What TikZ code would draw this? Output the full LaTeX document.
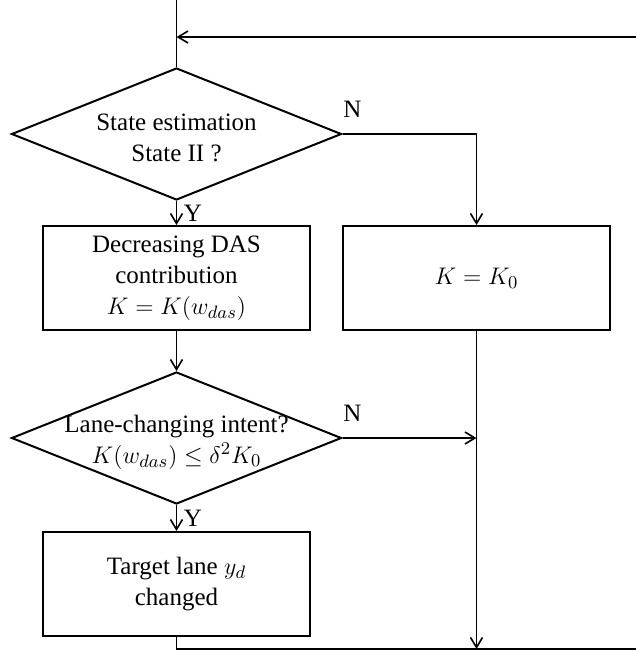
\documentclass[tikz,border=0pt]{standalone}
\usepackage{amsmath,amssymb}
\usepackage{fontspec}
\setmainfont{Liberation Serif}
\usetikzlibrary{arrows.meta,positioning,shapes.geometric}

\begin{document}
\begin{tikzpicture}[x=0.5pt, y=-0.5pt, node distance=12pt,
    every node/.style={font=\fontsize{12.5}{15.5}\selectfont},
    decision/.style={draw,diamond,aspect=2.5,inner sep=0pt,line width=1pt,minimum width=165pt,minimum height=66pt},
    process/.style={draw,rectangle,align=center,line width=1pt,minimum width=133.5pt,minimum height=52pt},
    flow/.style={line width=0.8pt,-{Straight Barb[length=5pt,width=6pt]}},
    wire/.style={line width=0.8pt}]
    \useasboundingbox (0,0) rectangle (636,655);
    \node[decision,label={[align=center,yshift=-2pt]center:State estimation\\State II ?}] (estim) at (176.5,134) {};
    \node[process,below=12pt of estim] (decr) {Decreasing DAS\\contribution\\$K=K(w_{das})$};
    \node[process,right=15.5pt of decr] (nominal) {$K=K_0$};
    \node[decision,below=20pt of decr,label={[align=center,yshift=-2pt]center:Lane-changing intent?\\$K(w_{das})\le\delta^2K_0$}] (intent) {};
    \node[process,below=13pt of intent] (target) {Target lane $y_d$\\changed};
    \coordinate (entry) at (176.5,0);
    \coordinate (back) at (636,37);
    \coordinate (loop) at (636,649);
    \draw[wire] (entry) -- (estim.north);
    \draw[flow] (back) -- (back -| estim.north);
    \draw[flow] (estim.south) -- node[right]{Y} (decr);
    \draw[flow] (estim.east) -| node[pos=0,anchor=south west,inner sep=0pt,yshift=8pt]{N} (nominal.north);
    \draw[flow] (decr) -- (intent);
    \draw[flow] (intent.east) -- node[pos=0,anchor=south west,inner sep=0pt,yshift=8pt]{N} (intent.east -| nominal.south);
    \draw[flow] (intent.south) -- node[right]{Y} (target);
    \draw[flow] (nominal.south) -- (nominal.south |- loop);
    \draw[wire] (target.south) |- (loop);
  \end{tikzpicture}
\end{document}
